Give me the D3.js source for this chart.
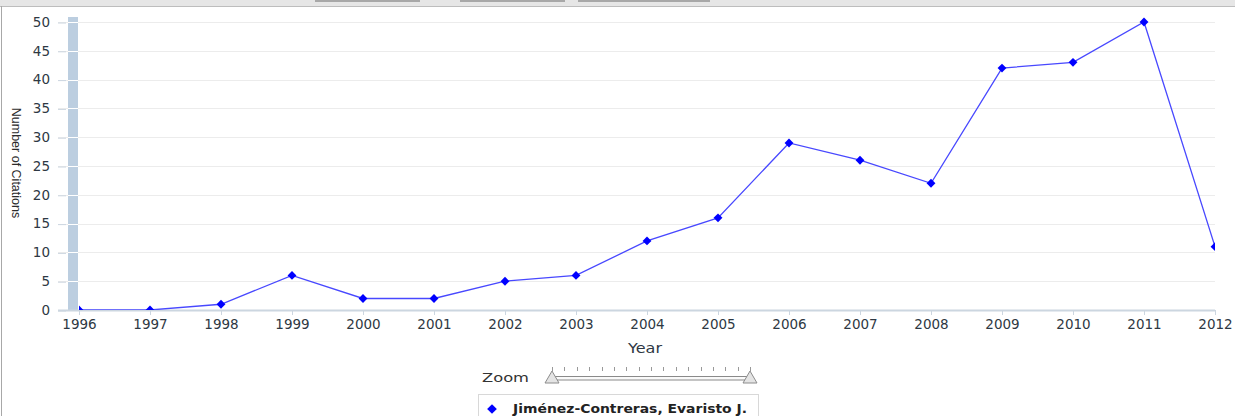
<!DOCTYPE html>
<html>
<head>
<meta charset="utf-8">
<script src="https://cdn.jsdelivr.net/npm/d3@7"></script>
<style>
  body { margin: 0; background: #fff; }
  svg { display: block; }
</style>
</head>
<body>
<div id="chart-holder"></div>
<script>
// chart data
var years = [1996, 1997, 1998, 1999, 2000, 2001, 2002, 2003, 2004, 2005, 2006, 2007, 2008, 2009, 2010, 2011, 2012];
var citations = [0, 0, 1, 6, 2, 2, 5, 6, 12, 16, 29, 26, 22, 42, 43, 50, 11];
var yTicks = [0, 5, 10, 15, 20, 25, 30, 35, 40, 45, 50];
var seriesName = "Jiménez-Contreras, Evaristo J.";

var width = 1235, height = 416;
var margin = { top: 22, left: 79, right: 20, bottom: 106 };
var tickFont = "DejaVu Sans, Verdana, sans-serif";

var svg = d3.select("#chart-holder").append("svg")
  .attr("width", width)
  .attr("height", height);

// toolbar strip at the top
svg.append("rect").attr("x", 0).attr("y", 0).attr("width", width).attr("height", 6).attr("fill", "#e6e6e6");
svg.append("line").attr("x1", 0).attr("x2", width).attr("y1", 6.5).attr("y2", 6.5).attr("stroke", "#bdbdbd");
[[315, 420], [460, 565], [578, 710]].forEach(function (b) {
  svg.append("rect").attr("x", b[0]).attr("y", 0).attr("width", b[1] - b[0]).attr("height", 2).attr("fill", "#a8a8a8");
});
// left frame
svg.append("line").attr("x1", 1.5).attr("x2", 1.5).attr("y1", 6).attr("y2", height).attr("stroke", "#a8a8a8");

var x = d3.scaleLinear()
  .domain([1996, 2012])
  .range([margin.left, width - margin.right]);
var y = d3.scaleLinear()
  .domain([0, 50])
  .range([310, 22]);

// gridlines
svg.append("g")
  .selectAll("line")
  .data(yTicks)
  .enter()
  .append("line")
  .attr("x1", 58)
  .attr("x2", x(2012))
  .attr("y1", function (d) { return Math.round(y(d)) + 0.5; })
  .attr("y2", function (d) { return Math.round(y(d)) + 0.5; })
  .attr("stroke", function (d) { return d === 0 ? "none" : "#ececec"; });

// vertical band beside the y axis
svg.append("rect")
  .attr("x", 68).attr("y", 17)
  .attr("width", 10).attr("height", y(0) - 17)
  .attr("fill", "#bccee0");
svg.append("g")
  .selectAll("line")
  .data(yTicks.slice(1))
  .enter()
  .append("line")
  .attr("x1", 68).attr("x2", 78)
  .attr("y1", function (d) { return Math.round(y(d)) + 0.5; })
  .attr("y2", function (d) { return Math.round(y(d)) + 0.5; })
  .attr("stroke", "#ffffff");

// y axis
var yAxis = svg.append("g")
  .attr("transform", "translate(66,0)")
  .call(d3.axisLeft(y).tickValues(yTicks).tickSize(8).tickPadding(8));
yAxis.select(".domain").remove();
yAxis.selectAll("line").attr("stroke", "#ccd6e0").attr("transform", "translate(0,0.5)");
yAxis.selectAll("text")
  .style("font-family", tickFont)
  .style("font-size", "13.5px")
  .attr("fill", "#2e3843");

// x axis
var xAxis = svg.append("g")
  .attr("transform", "translate(0," + y(0) + ")")
  .call(d3.axisBottom(x).tickValues(years).tickFormat(d3.format("d")).tickSize(5).tickSizeOuter(0).tickPadding(4));
xAxis.select(".domain").attr("d", "M58,0.5H" + x(2012)).attr("stroke", "#ccd6e0").attr("stroke-width", 2);
xAxis.selectAll("line").attr("stroke", "#ccd6e0");
xAxis.selectAll("text")
  .style("font-family", tickFont)
  .style("font-size", "13.5px")
  .attr("fill", "#2e3843");

// axis titles
svg.append("text")
  .attr("transform", "translate(12," + 163 + ")rotate(90)")
  .attr("text-anchor", "middle")
  .style("font-family", "Liberation Sans Narrow, Liberation Sans, Arial, sans-serif")
  .style("font-size", "12.5px")
  .attr("fill", "#2b2b2b")
  .text("Number of Citations");
svg.append("text")
  .attr("x", 645).attr("y", 353)
  .attr("text-anchor", "middle")
  .style("font-family", tickFont)
  .style("font-size", "13.5px")
  .attr("fill", "#2e3843")
  .attr("textLength", 34)
  .attr("lengthAdjust", "spacingAndGlyphs")
  .text("Year");

// plot clip
svg.append("defs").append("clipPath").attr("id", "plot-clip")
  .append("rect")
  .attr("x", x(1996)).attr("y", 0)
  .attr("width", x(2012) - x(1996)).attr("height", y(0));

var plot = svg.append("g").attr("clip-path", "url(#plot-clip)");
var points = years.map(function (d, i) { return { year: d, value: citations[i] }; });

plot.append("path")
  .datum(points)
  .attr("fill", "none")
  .attr("stroke", "#4848ff")
  .attr("stroke-width", 1.3)
  .attr("d", d3.line()
    .x(function (d) { return x(d.year); })
    .y(function (d) { return y(d.value); }));

plot.selectAll(".marker")
  .data(points)
  .enter()
  .append("path")
  .attr("class", "marker")
  .attr("transform", function (d) { return "translate(" + x(d.year) + "," + y(d.value) + ")"; })
  .attr("d", d3.symbol().type(d3.symbolDiamond2).size(50))
  .attr("fill", "#0000ff");

// zoom slider
var zoomX = d3.scaleLinear().domain([0, 16]).range([552, 750]);
svg.append("text")
  .attr("x", 482).attr("y", 382)
  .style("font-family", tickFont)
  .style("font-size", "13px")
  .attr("fill", "#333")
  .attr("textLength", 47)
  .attr("lengthAdjust", "spacingAndGlyphs")
  .text("Zoom");
svg.append("g")
  .selectAll("line")
  .data(d3.range(17))
  .enter()
  .append("line")
  .attr("x1", function (d) { return Math.round(zoomX(d)) + 0.5; })
  .attr("x2", function (d) { return Math.round(zoomX(d)) + 0.5; })
  .attr("y1", 367).attr("y2", 371)
  .attr("stroke", "#999");
svg.append("rect")
  .attr("x", 551).attr("y", 376.5).attr("width", 199).attr("height", 3.5)
  .attr("fill", "#fafafa").attr("stroke", "#8a8a8a").attr("stroke-width", 1);
[0, 16].forEach(function (d) {
  var cx = zoomX(d);
  svg.append("path")
    .attr("d", "M" + cx + ",371 L" + (cx + 7) + ",383 L" + (cx - 7) + ",383 Z")
    .attr("fill", "#e4e4e4").attr("stroke", "#8c8c8c");
});

// legend
svg.append("rect")
  .attr("x", 478.5).attr("y", 394.5).attr("width", 280).attr("height", 30)
  .attr("fill", "#fff").attr("stroke", "#d8d8d8");
svg.append("path")
  .attr("transform", "translate(492,409)")
  .attr("d", d3.symbol().type(d3.symbolDiamond2).size(60))
  .attr("fill", "#0000ff");
svg.append("text")
  .attr("x", 513).attr("y", 413)
  .style("font-family", tickFont)
  .style("font-size", "11.5px")
  .style("font-weight", "bold")
  .attr("fill", "#222")
  .attr("textLength", 234)
  .attr("lengthAdjust", "spacingAndGlyphs")
  .text(seriesName);
</script>
</body>
</html>
